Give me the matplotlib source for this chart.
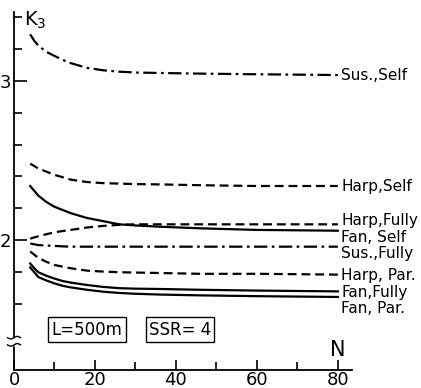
import numpy as np
import matplotlib
matplotlib.use("Agg")
import matplotlib.pyplot as plt
from matplotlib.ticker import FixedLocator, NullFormatter

#%% Data
N = [4, 5, 6, 8, 10, 12, 14, 18, 22, 26, 30, 36, 46, 60, 80]

K3_Sus_Self   = [3.29, 3.25, 3.22, 3.18, 3.155, 3.13, 3.11, 3.08, 3.065, 3.056, 3.051, 3.048, 3.044, 3.04, 3.035]
K3_Harp_Self  = [2.48, 2.465, 2.45, 2.43, 2.41, 2.395, 2.38, 2.365, 2.358, 2.355, 2.352, 2.35, 2.345, 2.34, 2.34]
K3_Fan_Self   = [2.34, 2.31, 2.28, 2.24, 2.21, 2.19, 2.17, 2.14, 2.12, 2.10, 2.093, 2.085, 2.075, 2.065, 2.06]
K3_Harp_Fully = [2.01, 2.018, 2.025, 2.038, 2.05, 2.058, 2.065, 2.08, 2.09, 2.097, 2.10, 2.10, 2.10, 2.10, 2.10]
K3_Sus_Fully  = [1.98, 1.975, 1.97, 1.967, 1.965, 1.962, 1.96, 1.96, 1.96, 1.96, 1.96, 1.96, 1.96, 1.96, 1.96]
K3_Harp_Par   = [1.93, 1.91, 1.89, 1.865, 1.845, 1.835, 1.825, 1.81, 1.804, 1.80, 1.798, 1.795, 1.79, 1.79, 1.785]
K3_Fan_Fully  = [1.855, 1.825, 1.80, 1.778, 1.76, 1.745, 1.735, 1.72, 1.708, 1.70, 1.697, 1.695, 1.69, 1.685, 1.68]
K3_Fan_Par    = [1.83, 1.80, 1.77, 1.748, 1.73, 1.715, 1.705, 1.69, 1.678, 1.67, 1.665, 1.66, 1.655, 1.65, 1.645]

Series = [K3_Sus_Self, K3_Harp_Self, K3_Fan_Self, K3_Harp_Fully,
          K3_Sus_Fully, K3_Harp_Par, K3_Fan_Fully, K3_Fan_Par]
Styles = ["dashdot", "dashed", "solid", "dashed",
          "dashdot", "dashed", "solid", "solid"]

Labels   = ["Sus.,Self", "Harp,Self", "Harp,Fully", "Fan, Self",
            "Sus.,Fully", "Harp, Par.", "Fan,Fully", "Fan, Par."]
Labels_Y = [3.03, 2.34, 2.125, 2.02, 1.92, 1.78, 1.67, 1.575]

XTicks = [0, 20, 40, 60, 80]
YTicks = [2, 3]

#%% Style
Fig_Width  = 4.21
Fig_Height = 3.88
FontName   = "DejaVu Sans"
LineWidth  = 1.6
Ink        = "black"

YLim = [1.1875, 3.43]
XLim = [0, 83.5]

Fig = plt.figure(figsize=[Fig_Width, Fig_Height], dpi=100)
ax = plt.axes([14/421, 18/388, 338/421, 358/388])

for y, ls in zip(Series, Styles):
    line, = ax.plot(N, y, c=Ink, lw=LineWidth, linestyle=ls, clip_on=False)
    if ls == "dashed":
        line.set_dashes([4, 2.2])
    elif ls == "dashdot":
        line.set_dashes([6, 2, 1.2, 2])

for lab, ly in zip(Labels, Labels_Y):
    ax.text(80.8, ly, lab, fontsize=11, fontfamily=FontName,
            va="center", ha="left", clip_on=False)

ax.set_xlim(XLim)
ax.set_ylim(YLim)

ax.spines[["top", "right"]].set_visible(False)
ax.spines[["left", "bottom"]].set_linewidth(1.3)

ax.xaxis.set_major_locator(FixedLocator(XTicks))
ax.xaxis.set_minor_locator(FixedLocator([10, 30, 50, 70]))
ax.yaxis.set_major_locator(FixedLocator(YTicks))
ax.yaxis.set_minor_locator(FixedLocator([1.6, 1.8, 2.2, 2.4, 2.6, 2.8, 3.2, 3.4]))
ax.yaxis.set_minor_formatter(NullFormatter())

ax.tick_params(axis="both", which="both", direction="in", width=1.2)
ax.tick_params(axis="y", which="major", length=9, pad=2, labelsize=13)
ax.tick_params(axis="y", which="minor", length=6)
ax.tick_params(axis="x", which="major", length=7, pad=1, labelsize=13)
ax.tick_params(axis="x", which="minor", length=6)

# Axis break on the y axis
ax.add_patch(plt.Rectangle((-1.5, 1.345), 3, 0.045, color="white",
                           clip_on=False, zorder=5))
tt = np.linspace(-1, 1, 20)
for yb in [1.39, 1.345]:
    ax.plot(tt * 1.6, yb + 0.008 * np.sin(tt * np.pi), c=Ink, lw=1.0,
            clip_on=False, zorder=6)

# Axis names
ax.text(2.4, 3.375, "K$_3$", fontsize=14, fontfamily=FontName,
        va="center", ha="left", clip_on=False)
ax.text(80, 1.31, "N", fontsize=15, fontfamily=FontName,
        va="center", ha="center", clip_on=False)

# Parameter boxes
Box = dict(boxstyle="square,pad=0.2", fc="white", ec=Ink, lw=1.0)
ax.text(18, 1.44, "L=500m", fontsize=12, fontfamily=FontName,
        va="center", ha="center", bbox=Box)
ax.text(41, 1.44, "SSR= 4", fontsize=12, fontfamily=FontName,
        va="center", ha="center", bbox=Box)

plt.savefig("out.png", dpi=100)
